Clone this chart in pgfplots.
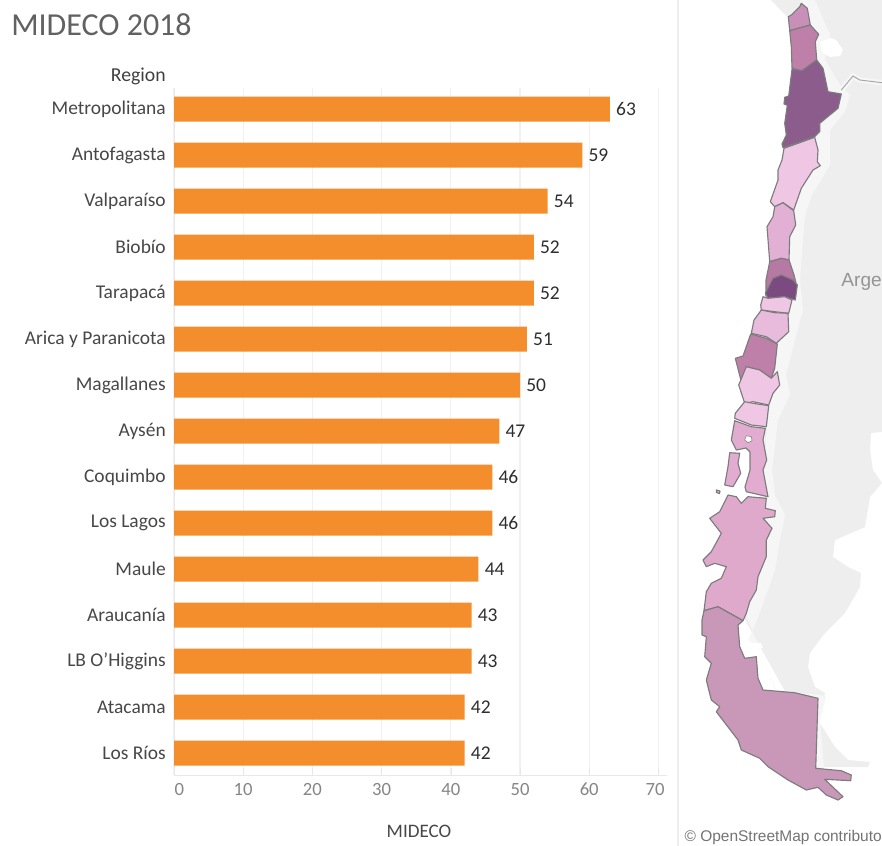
\documentclass[border=0pt]{standalone}
\usepackage{pgfplots}
\pgfplotsset{compat=1.18}
\usepackage{fontspec}
\setmainfont{Carlito}
\newfontfamily\osmfont{Liberation Sans}
\definecolor{barc}{HTML}{F48E2C}
\definecolor{gridc}{HTML}{F1F1F1}
\definecolor{axc}{HTML}{E8E8E8}
\definecolor{landc}{HTML}{EEEEEE}
\definecolor{haloc}{HTML}{F6F6F6}
\definecolor{edgec}{HTML}{7C7C7C}
\definecolor{cA}{HTML}{C88FB8}
\definecolor{cB}{HTML}{BE80A9}
\definecolor{cC}{HTML}{8B5C8C}
\definecolor{cD}{HTML}{EFC6E4}
\definecolor{cE}{HTML}{E2B0D5}
\definecolor{cF}{HTML}{B679A3}
\definecolor{cG}{HTML}{7A4A80}
\definecolor{cH}{HTML}{E8BBDD}
\definecolor{cI}{HTML}{E2ACD0}
\definecolor{cJ}{HTML}{DFA9CC}
\definecolor{cK}{HTML}{C997B8}
\pgfplotstableread{
i v
0 63
1 59
2 54
3 52
4 52
5 51
6 50
7 47
8 46
9 46
10 44
11 43
12 43
13 42
14 42
}\bardata
\pgfplotsset{reg/.style={fill=#1,draw=edgec,line width=0.85pt,mark=none,line join=round}}
\begin{document}
\begin{tikzpicture}[x=1pt,y=1pt]
\useasboundingbox (0,0) rectangle (661.5pt,634.5pt);
\begin{axis}[name=base,at={(0,0)},anchor=south west,scale only axis,width=661.5pt,height=634.5pt,
  xmin=0,xmax=882,ymin=0,ymax=846,y dir=reverse,hide axis,clip=true]
% land
\addplot[fill=landc,draw=none,mark=none] coordinates {(771,0)(882,0)(882,432)(871,433)(870,450)(873,470)(882,483)(870,497)(865,527)(835,540)(833,557)(848,567)(861,573)(860,587)(845,613)(825,633)(810,653)(808,667)(815,687)(825,693)(818,720)(835,747)(848,760)(870,762)(868,767)(848,767)(816,767)(790,700)(745,620)(760,500)(775,300)(800,100)(790,20)} --cycle;
% halo
\addplot[fill=haloc,draw=none,mark=none] coordinates {(800,0)(815,0)(830,35)(825,60)(840,85)(850,95)(845,112)(830,130)(830,165)(812,195)(805,215)(803,240)(800,280)(803,310)(795,340)(786,375)(790,395)(778,420)(772,470)(775,495)(785,515)(780,540)(775,570)(768,590)(760,612)(755,625)(748,640)(760,650)(770,675)(775,690)(820,695)(826,696)(820,720)(824,768)(810,770)(780,700)(740,600)(760,500)(780,300)(800,100)} --cycle;
\addplot[fill=white,draw=none,mark=none] coordinates {(820,42)(830,38)(836,40)(843,50)(840,56)(830,57)(822,52)} --cycle;
\addplot[fill=white,draw=none,mark=none] coordinates {(746,643)(761,643)(763,648)(750,650)} --cycle;
\addplot[draw=haloc,line width=4pt,mark=none] coordinates {(841.3,90)(853,76)(859.7,80)(882,82.7)};
\addplot[draw=black!35,line width=0.7pt,mark=none] coordinates {(841.3,90)(853,76)(859.7,80)(882,82.7)};
% panel edge
\addplot[draw=landc,line width=0.8pt,mark=none] coordinates {(678,0)(678,846)};
% regions
\addplot[reg=cA] coordinates {(801.3,3.3)(807.3,8.3)(810.3,25)(789.7,30.7)(788.3,16.7)(791.3,15)(799.7,6.7)} --cycle;
\addplot[reg=cB] coordinates {(789.7,30.7)(810.3,25)(818.7,34.3)(815.3,41.7)(816.7,60)(802,70.7)(792,68.3)(791.3,46.7)} --cycle;
\addplot[reg=cC] coordinates {(816.7,60)(823,68.3)(828,91.7)(841.3,94)(838,108.3)(819.7,123.3)(819.7,131.7)(814.7,136.7)(783,147.7)(782,144)(786.3,135)(784.7,123.3)(787.3,105.3)(784,104)(784.7,97.3)(788.7,96)(792,69.3)(802,70.7)} --cycle;
\addplot[reg=cD] coordinates {(784,148.3)(814.7,137.3)(818,150)(817.3,161.7)(820.3,165.7)(813,170)(801.3,188.3)(793.7,210)(783,202.7)(774.7,206.7)(770.3,201.7)(778,180)(778,170)(782,160)} --cycle;
\addplot[reg=cE] coordinates {(774.7,206.7)(783,202.7)(793.7,210.7)(795.7,225)(789.7,236.7)(789,260)(781.3,258.3)(769.7,261.7)(767,226.7)(773,216.7)} --cycle;
\addplot[reg=cF] coordinates {(769.7,261.7)(781.3,258.3)(789,260)(794,275)(796,283)(766,296)(766,280)} --cycle;
\addplot[reg=cG] coordinates {(773,278.3)(781.3,275)(793,280)(797.3,285)(795.3,300)(784.7,296.7)(768,298.3)(765.3,293.3)} --cycle;
\addplot[reg=cD] coordinates {(763,296.7)(768,298.3)(784.7,296.7)(792,300)(788.7,313.3)(774.7,311.7)(761.3,310)(760.7,305)} --cycle;
\addplot[reg=cH] coordinates {(761.3,310)(774.7,312.7)(788,313.3)(788.7,331.7)(776.3,343.3)(766.3,336.7)(751.3,333.3)(754,320)} --cycle;
\addplot[reg=cB] coordinates {(750.7,334)(766.3,338.3)(777.3,344)(774.7,368.3)(771.3,378.3)(759.7,370)(746.3,366.7)(741.3,381.7)(735.3,358.3)(743,356)} --cycle;
\addplot[reg=cD] coordinates {(746.3,366.7)(759.7,370)(771.3,378.3)(777.3,371.7)(779.7,385)(773,393.3)(768.7,405)(753,401.7)(744.7,403.3)(738.7,385)} --cycle;
\addplot[reg=cD] coordinates {(744.7,401.7)(753,403.3)(768.7,405.7)(766.3,426.7)(751.3,425)(734.7,418.3)(735.3,413.3)} --cycle;
\addplot[reg=cI] coordinates {(734.7,420.7)(751.3,426.7)(765.3,428.3)(763,440)(766.7,460)(763,470)(768,496.7)(756.3,494)(746.3,491.7)(745,487)(750,470)(750,452)(746,448)(736.3,450)(731.3,440)} --cycle;
\addplot[fill=white,draw=edgec,line width=0.4pt,mark=none] coordinates {(746.3,435.7)(751.3,436.7)(752,440.7)(748,442.7)(744.7,440)} --cycle;
\addplot[reg=cI] coordinates {(729.7,452.7)(739.7,453.3)(738,463.3)(740.7,473.3)(733,486.7)(724.7,485)(728,466.7)} --cycle;
\addplot[reg=cI] coordinates {(716.5,490)(720,491)(719.5,493.5)(716.5,492.5)} --cycle;
\addplot[reg=cJ] coordinates {(728,495)(736.3,496.7)(741.3,503.3)(748,496.7)(766.3,498.3)(765.3,508.3)(775.3,510.7)(774.7,516.7)(763,518.3)(772,528.3)(766.3,540)(766.3,556.7)(758,576.7)(756.3,590)(749.7,601.7)(746.3,613.3)(743,620.7)(718,606.7)(704,610.7)(706.3,591.7)(711.3,583.3)(721.3,578.3)(726.3,566.7)(714.7,563.3)(706.3,566.7)(703,560)(711.3,551.7)(721.3,533.3)(709.7,518.3)(719.7,511.7)} --cycle;
\addplot[reg=cK] coordinates {(704,610.7)(718,606.7)(743,620.7)(738,625)(739.7,646.7)(744.7,658.3)(756.3,656.7)(758,678.3)(763,690)(794.7,692.7)(818,698.3)(815.7,768.3)(841.3,770.7)(851.3,775)(850.7,780.7)(824.7,779.3)(843,796.7)(838,800)(826.3,795)(818,787.3)(806.3,790)(788,780)(768,766.7)(759.7,758.3)(741.3,750)(738,740)(716.3,711.7)(719.7,706.7)(711.3,700)(706.3,680)(711.3,663.3)(704.7,656.7)(706.3,636.7)(702,635)(702,620)} --cycle;
% texts
\node[anchor=west,text=black!62,inner sep=0pt,font=\fontsize{24}{28}\selectfont] at (axis cs:11,25) {MIDECO 2018};
\node[anchor=east,text=black!75,inner sep=0pt,font=\fontsize{14.8}{16}\selectfont] at (axis cs:166,76) {Region};
\node[anchor=center,text=black!72,inner sep=0pt,font=\fontsize{14.3}{16}\selectfont] at (axis cs:419,831) {MIDECO};
\node[anchor=east,text=black!55,inner sep=0pt,font=\osmfont\fontsize{11.6}{13}\selectfont] at (axis cs:882,837) {© OpenStreetMap contributo};
\node[anchor=east,text=black!42,inner sep=0pt,font=\osmfont\fontsize{14.3}{16}\selectfont] at (axis cs:882,282) {Arge};
\end{axis}
\begin{axis}[at={(130.5pt,53.25pt)},anchor=south west,scale only axis,width=369.75pt,height=515.25pt,
  xbar,bar width=18.75pt,bar shift=0pt,
  xmin=0,xmax=71.24,ymin=-0.457,ymax=14.478,y dir=reverse,
  axis x line*=bottom,axis y line*=left,axis line style={draw=axc,-},
  xmajorgrids,grid style={draw=gridc,line width=0.8pt},
  xtick={0,10,...,70},
  xticklabels={\hspace*{8pt}0,10,20,30,40,50,60,70\hspace*{5pt}},
  xtick style={draw=axc},major tick length=5pt,
  ytick={0,...,14},ytick style={draw=none},
  yticklabels={Metropolitana,Antofagasta,Valparaíso,Biobío,Tarapacá,Arica y Paranicota,Magallanes,Aysén,Coquimbo,Los Lagos,Maule,Araucanía,LB O'Higgins,Atacama,Los Ríos},
  yticklabel style={font=\fontsize{14.6}{16}\selectfont,text=black!72,inner xsep=0pt,xshift=-1pt},
  xticklabel style={font=\fontsize{14}{16}\selectfont,text=black!48,inner ysep=0pt,yshift=-6pt},
  /pgf/number format/assume math mode=true,
  nodes near coords,point meta=x,
  nodes near coords style={anchor=west,font=\fontsize{14.6}{16}\selectfont,text=black!82,inner xsep=4.5pt},
  clip=false]
\addplot[fill=barc,draw=none] table[x=v,y=i] {\bardata};
\end{axis}
\end{tikzpicture}
\end{document}
